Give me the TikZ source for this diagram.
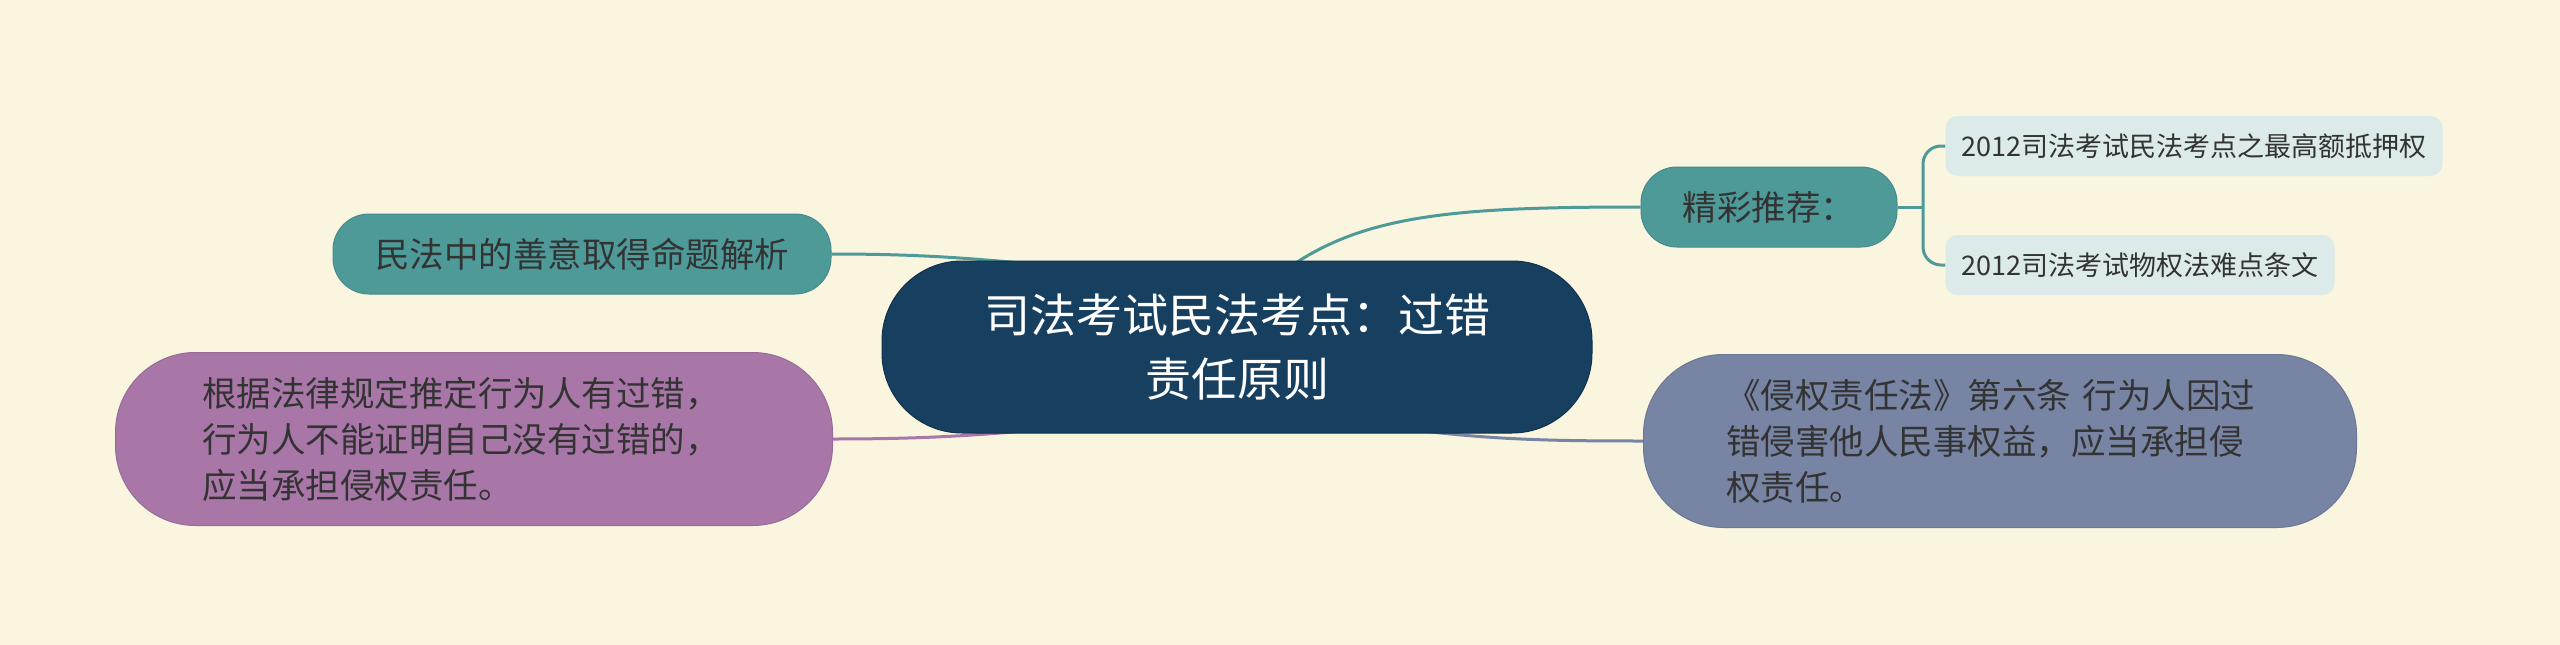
\documentclass[tikz,border=0pt]{standalone}
\usepackage{fontspec}
\setmainfont{Noto Sans CJK SC}
\definecolor{bgc}{HTML}{F9F5DF}
\definecolor{navy}{HTML}{173F5F}
\definecolor{tealc}{HTML}{4E9A99}
\definecolor{purp}{HTML}{A877A8}
\definecolor{bgray}{HTML}{7784A4}
\definecolor{leafc}{HTML}{DCEBEA}
\definecolor{txt}{HTML}{333333}
\pgfdeclarelayer{bglayer}
\pgfdeclarelayer{lines}
\pgfsetlayers{bglayer,lines,main}
\begin{document}
\begin{tikzpicture}[x=1pt,y=-1pt,
  rootbox/.style={fill=navy, draw=navy!80!black, line width=1pt, text=white, minimum width=710pt, minimum height=172pt,
    rounded corners=80pt, align=center, inner sep=0pt, font=\fontsize{46}{64}\selectfont},
  subbox/.style={fill=tealc, draw=tealc!90!black, line width=1pt, text=txt, minimum height=80pt, rounded corners=36pt,
    inner sep=0pt, font=\fontsize{34.5}{46}\selectfont},
  bigbox/.style={draw, line width=1pt, text=txt, minimum height=173pt, rounded corners=80pt,
    inner sep=0pt, align=left, font=\fontsize{34.5}{46}\selectfont},
  leafbox/.style={fill=leafc, text=txt, minimum height=60pt, rounded corners=12pt,
    inner sep=0pt, font=\fontsize{27}{32}\selectfont},
  conn/.style={line width=3pt}
]
\begin{pgfonlayer}{bglayer}
\fill[bgc] (0,0) rectangle (2560,645);
\end{pgfonlayer}
\useasboundingbox (0,0) rectangle (2560,645);

\node[rootbox] (root) at (1237,347) {司法考试民法考点：过错\\责任原则};
\node[subbox, minimum width=256pt] (rec) at (1769,207) {精彩推荐：};
\node[subbox, minimum width=498pt] (mf) at (582,254) {民法中的善意取得命题解析};
\node[leafbox, minimum width=497pt] (l1) at (2194,146) {2012司法考试民法考点之最高额抵押权};
\node[leafbox, minimum width=389pt] (l2) at (2140,265) {2012司法考试物权法难点条文};
\node[bigbox, fill=purp, draw=purp!90!black, minimum width=717pt, text width=544pt] (pp) at (474,439)
  {根据法律规定推定行为人有过错，\\行为人不能证明自己没有过错的，\\应当承担侵权责任。};
\node[bigbox, fill=bgray, draw=bgray!90!black, minimum width=713pt, text width=548pt] (bb) at (2000,441)
  {《侵权责任法》第六条 行为人因过\\错侵害他人民事权益，应当承担侵\\权责任。};

\coordinate (br) at (1923,207);

\begin{pgfonlayer}{lines}
\draw[conn, tealc] ([shift={(45,12)}]root.north) .. controls (1360,215) and (1450,207) .. (rec.west);
\draw[conn, tealc] (mf.east) .. controls (950,254) and (1000,262) .. ([shift={(-150,8)}]root.north);
\draw[conn, purp] (pp.east) .. controls (950,439) and (1000,433) .. ([shift={(-150,-8)}]root.south);
\draw[conn, bgray] ([shift={(145,-8)}]root.south) .. controls (1480,440) and (1550,441) .. (bb.west);
\draw[conn, tealc] (rec.east) -- (br);
\draw[conn, tealc, rounded corners=18pt] (l1.west) -| (br) |- (l2.west);
\end{pgfonlayer}
\end{tikzpicture}
\end{document}
